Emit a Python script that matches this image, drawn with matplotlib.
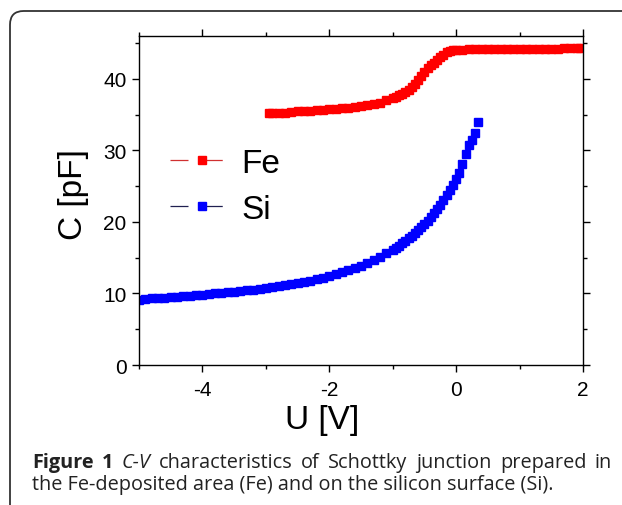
import matplotlib
matplotlib.use("Agg")
import matplotlib.pyplot as plt
from matplotlib.patches import FancyBboxPatch
from matplotlib.lines import Line2D
from matplotlib.ticker import MultipleLocator

# C-V data
u_fe = [-2.95, -2.9, -2.8, -2.7, -2.6, -2.5, -2.4, -2.3, -2.2, -2.1, -2.0,
        -1.9, -1.8, -1.7, -1.6, -1.5, -1.4, -1.3, -1.2, -1.1, -1.0,
        -0.95, -0.9, -0.85, -0.8, -0.75, -0.7, -0.65, -0.6, -0.55, -0.5,
        -0.45, -0.4, -0.35, -0.3, -0.25, -0.2, -0.15, -0.1, -0.05, 0.0,
        0.1, 0.2, 0.3, 0.4, 0.5, 0.6, 0.7, 0.8, 0.9, 1.0, 1.1, 1.2, 1.3,
        1.4, 1.5, 1.6, 1.7, 1.8, 1.9, 1.95]
c_fe = [35.2, 35.2, 35.25, 35.3, 35.35, 35.45, 35.5, 35.55, 35.6, 35.7, 35.75,
        35.8, 35.9, 36.0, 36.1, 36.2, 36.35, 36.5, 36.7, 37.0, 37.3,
        37.5, 37.7, 37.9, 38.2, 38.5, 38.9, 39.3, 39.8, 40.4, 41.0,
        41.5, 41.9, 42.2, 42.6, 43.0, 43.4, 43.7, 43.9, 44.0, 44.1,
        44.1, 44.15, 44.15, 44.15, 44.15, 44.2, 44.2, 44.2, 44.2, 44.2,
        44.2, 44.25, 44.25, 44.25, 44.25, 44.25, 44.3, 44.3, 44.3, 44.3]

u_si = [-5.0, -4.9, -4.8, -4.7, -4.6, -4.5, -4.4, -4.3, -4.2, -4.1, -4.0,
        -3.9, -3.8, -3.7, -3.6, -3.5, -3.4, -3.3, -3.2, -3.1, -3.0,
        -2.9, -2.8, -2.7, -2.6, -2.5, -2.4, -2.3, -2.2, -2.1, -2.0,
        -1.9, -1.8, -1.7, -1.6, -1.5, -1.4, -1.3, -1.2, -1.1, -1.0,
        -0.95, -0.9, -0.85, -0.8, -0.75, -0.7, -0.65, -0.6, -0.55, -0.5,
        -0.45, -0.4, -0.35, -0.3, -0.25, -0.2, -0.15, -0.1, -0.05, 0.0,
        0.05, 0.1, 0.15, 0.2, 0.25, 0.3, 0.35]
c_si = [9.1, 9.2, 9.3, 9.35, 9.4, 9.5, 9.55, 9.6, 9.7, 9.75, 9.8,
        9.9, 10.0, 10.05, 10.15, 10.25, 10.35, 10.45, 10.55, 10.65, 10.75,
        10.9, 11.0, 11.15, 11.3, 11.45, 11.6, 11.8, 12.0, 12.2, 12.45,
        12.7, 12.95, 13.25, 13.55, 13.9, 14.3, 14.7, 15.15, 15.6, 16.1,
        16.4, 16.7, 17.05, 17.4, 17.75, 18.1, 18.5, 18.9, 19.3, 19.75,
        20.2, 20.7, 21.2, 21.8, 22.4, 23.1, 23.8, 24.5, 25.2, 26.0,
        26.9, 28.1, 29.5, 30.8, 31.4, 32.5, 34.0]

caption_1 = [("Figure", "bold"), ("1", "bold"), ("C-V", "italic"),
             ("characteristics", ""), ("of", ""), ("Schottky", ""),
             ("junction", ""), ("prepared", ""), ("in", "")]
caption_2 = "the Fe-deposited area (Fe) and on the silicon surface (Si)."

W, H = 622, 506
fig = plt.figure(figsize=(W / 100, H / 100), dpi=100)
plt.rcParams['font.family'] = ['Liberation Sans', 'DejaVu Sans']

# rounded frame around figure + caption
frame = FancyBboxPatch((10 / W, -30 / H), 800 / W, (H - 12 + 30) / H,
                       boxstyle="round,pad=0,rounding_size=0.022",
                       transform=fig.transFigure, fill=False,
                       edgecolor="#333333", linewidth=1.3, mutation_aspect=W / H)
fig.patches.append(frame)

ax = fig.add_axes([139 / W, 1 - 366 / H, 444 / W, 329 / H])

ax.plot(u_fe, c_fe, linestyle="none", marker="s", markersize=5.3,
        markerfacecolor="#ff0000", markeredgecolor="#ff0000")
ax.plot(u_si, c_si, linestyle="none", marker="s", markersize=5.3,
        markerfacecolor="#0000ff", markeredgecolor="#0000ff")

ax.set_xlim(-5, 2)
ax.set_ylim(0, 46)
ax.xaxis.set_major_locator(MultipleLocator(2))
ax.xaxis.set_minor_locator(MultipleLocator(1))
ax.yaxis.set_major_locator(MultipleLocator(10))
ax.yaxis.set_minor_locator(MultipleLocator(5))
ax.tick_params(which="both", direction="out", top=True, right=True,
               width=1, labelsize=15)
ax.tick_params(which="major", length=5)
ax.tick_params(which="minor", length=3)
ax.tick_params(axis="x", which="major", pad=6)
ax.tick_params(axis="y", which="major", pad=4)
ax.set_xticks([-4, -2, 0, 2])
ax.set_xticklabels(["-4", "-2", "0", "2"])
for s in ax.spines.values():
    s.set_linewidth(1)

ax.set_xlabel("U [V]", fontsize=24)
ax.set_ylabel("C [pF]", fontsize=24)
ax.xaxis.set_label_coords(0.412, -0.12)
ax.yaxis.set_label_coords(-0.112, 0.52)

# legend in Origin style: line - symbol - line
dash = (0, (14.4, 13))
handles = [
    Line2D([], [], linestyle=dash, color="#d03030", linewidth=0.9, marker="s",
           markersize=6, markerfacecolor="#ff0000", markeredgecolor="#ff0000"),
    Line2D([], [], linestyle=dash, color="#202050", linewidth=0.9, marker="s",
           markersize=6, markerfacecolor="#0000ff", markeredgecolor="#0000ff"),
]
ax.legend(handles, ["Fe", "Si"], loc="upper left",
          bbox_to_anchor=(170 / W, 1 - 149 / H),
          bbox_transform=fig.transFigure, frameon=False, fontsize=24,
          handlelength=1.9, handletextpad=0.25, borderpad=0,
          borderaxespad=0, labelspacing=0.45, numpoints=1)

# caption, first line justified to the frame width
cap_font = ["Open Sans", "DejaVu Sans"]
cap_size = 14.3
x_left, x_right = 32, 612
renderer = fig.canvas.get_renderer()
words = []
for word, kind in caption_1:
    t = fig.text(0, 1 - 468 / H, word, fontsize=cap_size, family=cap_font,
                 color="#222222",
                 fontweight="bold" if kind == "bold" else "normal",
                 style="italic" if kind == "italic" else "normal")
    words.append(t)
widths = [t.get_window_extent(renderer).width for t in words]
gap = (x_right - x_left - sum(widths)) / (len(words) - 1)
x = x_left
for t, w in zip(words, widths):
    t.set_x(x / W)
    x += w + gap

fig.text(x_left / W, 1 - 490 / H, caption_2, fontsize=cap_size,
         family=cap_font, color="#222222")

fig.savefig("out.png", dpi=100)
